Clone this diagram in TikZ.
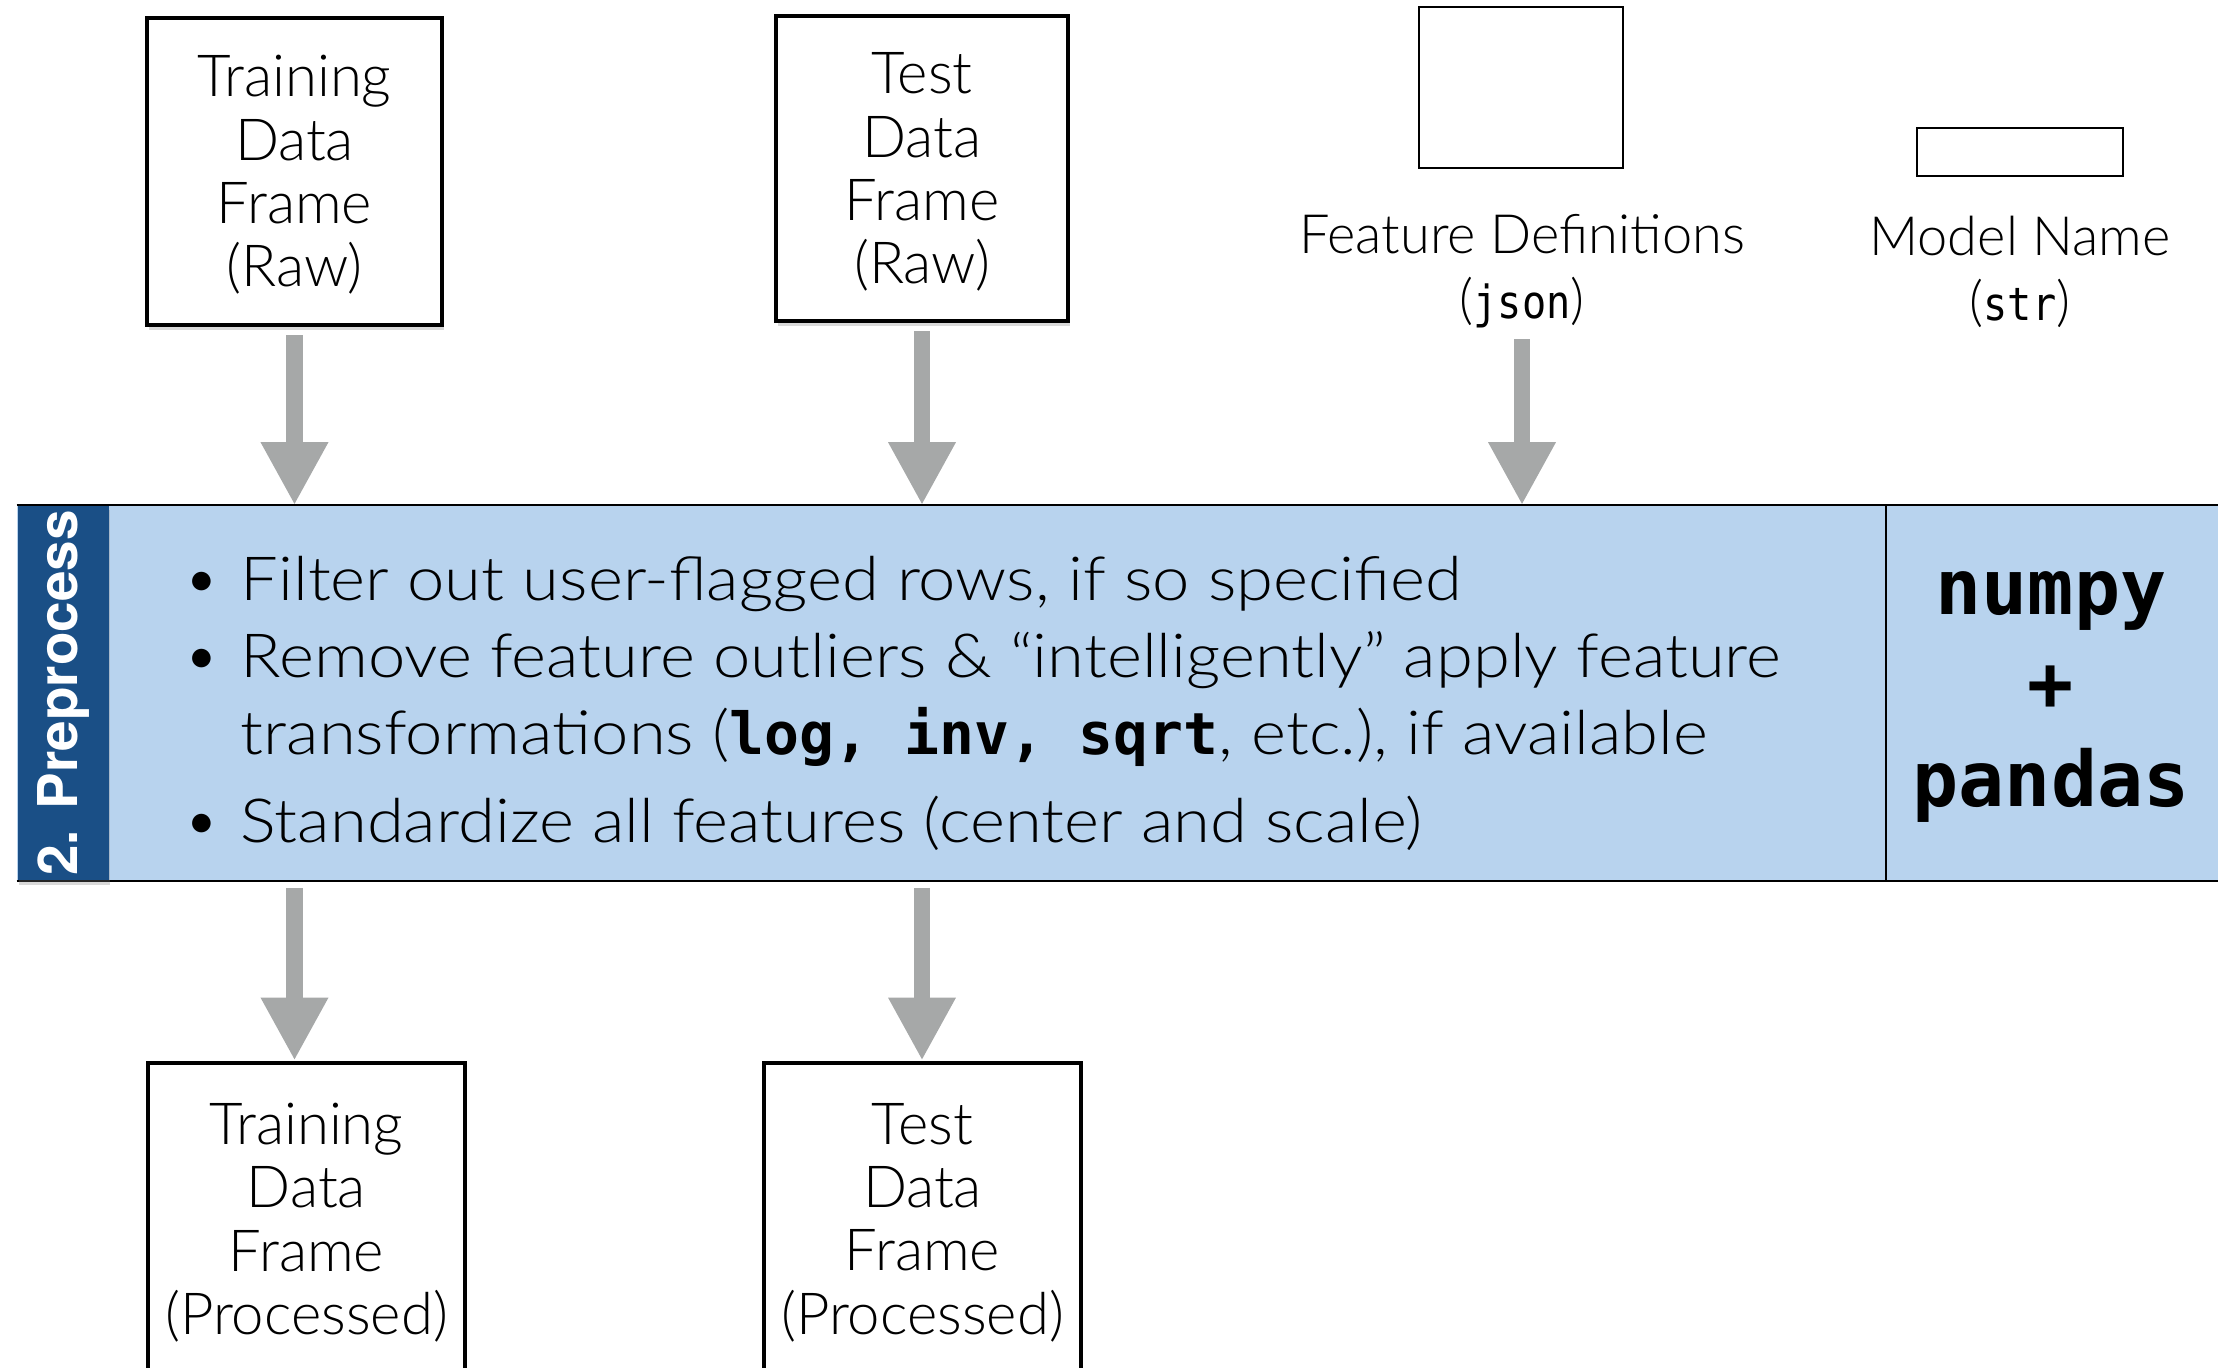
\documentclass[tikz,border=0pt]{standalone}
\usepackage{fontspec}
\setmainfont{Lato Light}
\newfontfamily\bodyfont{Lato Light}[FakeStretch=1.1]
\newfontfamily\headfont{TeX Gyre Heros}
\newfontfamily\codefont{DejaVu Sans Mono}
\newfontfamily\labelcode{DejaVu Sans Mono}[FakeStretch=0.88]
\usetikzlibrary{arrows.meta,shadows}

\definecolor{bandblue}{HTML}{B8D3EE}
\definecolor{tagblue}{HTML}{1A4F86}
\definecolor{flowgray}{HTML}{A6A8A8}

\tikzset{
  frame/.style={draw=black, line width=1.3pt, fill=white, inner sep=0pt,
    drop shadow={shadow xshift=0.5pt, shadow yshift=-1.3pt, opacity=0.3}},
  slot/.style={draw=black, line width=0.7pt, fill=white, inner sep=0pt},
  boxtext/.style={align=center, inner sep=0pt, font=\fontsize{16.5pt}{18pt}\selectfont},
  caption/.style={align=center, inner sep=0pt, font=\fontsize{15.4pt}{18.5pt}\selectfont},
  bullettext/.style={anchor=base west, inner sep=0pt, font=\bodyfont\fontsize{17.3pt}{19pt}\selectfont},
  bulletmark/.style={anchor=base, inner sep=0pt, font=\fontsize{18pt}{19pt}\selectfont},
  libtext/.style={anchor=base, inner sep=0pt, font=\codefont\bfseries\fontsize{21.8pt}{24pt}\selectfont},
  flow/.style={draw=flowgray, line width=1.6mm, -{Triangle[width=6.3mm,length=6.3mm]}},
}

\begin{document}
\begin{tikzpicture}[x=0.01cm,y=-0.01cm]
\useasboundingbox (0,0) rectangle (2218,1368);

% inputs
\node[frame, minimum width=2.95cm, minimum height=3.07cm] (trainraw) at (294.5,171.5) {};
\node[boxtext] (trainrawtext) at (294.5,175) {Training\\Data\\Frame\\(Raw)};
\node[frame, minimum width=2.92cm, minimum height=3.05cm] (testraw) at (922,168.5) {};
\node[boxtext] (testrawtext) at (922,172) {Test\\Data\\Frame\\(Raw)};

\node[slot, minimum width=2.04cm, minimum height=1.61cm] (featbox) at (1521,87.5) {};
\node[caption] (featlabel) at (1522,271.5) {Feature Definitions\\({\labelcode\fontsize{13pt}{18.5pt}\selectfont json})};
\node[slot, minimum width=2.06cm, minimum height=0.48cm] (modelbox) at (2020,152) {};
\node[caption] (modellabel) at (2020,271.5) {Model Name\\({\labelcode\fontsize{13pt}{18.5pt}\selectfont str})};

% preprocessing band
\node[fill=bandblue, inner sep=0pt, minimum width=22.22cm, minimum height=3.74cm] (band) at (1129,693) {};
\draw[line width=0.7pt] (band.north west) -- (band.north east);
\draw[line width=0.7pt] (band.south west) -- (band.south east);
\coordinate (divtop) at (1886,506);
\coordinate (divbot) at (1886,880);
\draw[line width=0.7pt] (divtop) -- (divbot);
\node[fill=tagblue, inner sep=0pt, minimum width=0.91cm, minimum height=3.74cm,
  drop shadow={shadow xshift=0.3pt, shadow yshift=-1.3pt, opacity=0.3}] (tag) at (63.5,693) {};
\node[rotate=90, text=white, inner sep=0pt,
  font=\headfont\bfseries\fontsize{15.6pt}{18pt}\selectfont] (tagtext) at (tag) {2. Preprocess};

\node[bulletmark] (b1) at (202,601) {•};
\node[bullettext] (l1) at (240,601) {Filter out user-flagged rows, if so specified};
\node[bulletmark] (b2) at (202,678) {•};
\node[bullettext] (l2) at (240,678) {Remove feature outliers \& “intelligently” apply feature};
\node[bullettext] (l3) at (240,755) {transformations ({\codefont\bfseries\fontsize{16.5pt}{19pt}\selectfont log, inv, sqrt}, etc.), if available};
\node[bulletmark] (b3) at (202,843) {•};
\node[bullettext] (l4) at (240,843) {Standardize all features (center and scale)};

\node[libtext] (np) at (2051,615) {numpy};
\node[libtext] (plus) at (2051,711) {+};
\node[libtext] (pd) at (2051,807) {pandas};

% outputs
\node[frame, minimum width=3.17cm, minimum height=3.37cm] (trainproc) at (306.5,1231.5) {};
\node[boxtext] (trainproctext) at (306.5,1222.5) {Training\\Data\\Frame\\(Processed)};
\node[frame, minimum width=3.17cm, minimum height=3.37cm] (testproc) at (922.5,1231.5) {};
\node[boxtext] (testproctext) at (922.5,1222.5) {Test\\Data\\Frame\\(Processed)};

% data flow
\draw[flow, shorten <=0.08cm] (trainraw.south) -- (trainraw.south |- band.north);
\draw[flow, shorten <=0.08cm] (testraw.south) -- (testraw.south |- band.north);
\draw[flow, shorten <=0.1cm] (featlabel.south) -- (featlabel.south |- band.north);
\draw[flow, shorten <=0.07cm] (trainraw.south |- band.south) -- (trainraw.south |- trainproc.north);
\draw[flow, shorten <=0.07cm] (testraw.south |- band.south) -- (testraw.south |- testproc.north);
\end{tikzpicture}
\end{document}
